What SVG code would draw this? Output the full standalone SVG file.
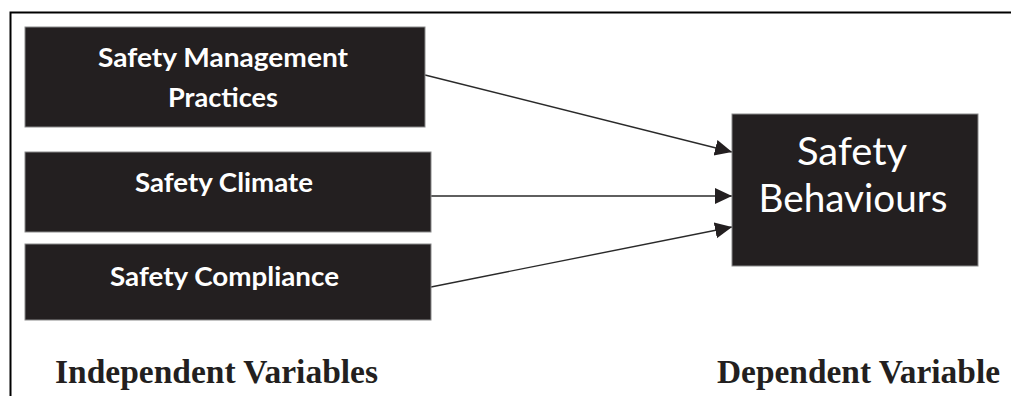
<svg xmlns="http://www.w3.org/2000/svg" width="1011" height="396" viewBox="0 0 1011 396">
<style>
.box{fill:#231f20;stroke:#8a8a8a;stroke-width:1}
.lbl{font-family:Lato,"Open Sans","Liberation Sans",sans-serif;font-weight:bold;fill:#ffffff;text-anchor:middle}
.big{font-family:Lato,"Open Sans","Liberation Sans",sans-serif;font-weight:normal;fill:#ffffff;text-anchor:middle;font-size:38px}
.cap{font-family:"Liberation Serif","Times New Roman",serif;font-weight:bold;fill:#231f20;font-size:34px}
.conn{stroke:#2a2a2a;stroke-width:1.4;fill:none;marker-end:url(#ah)}
</style>
<defs>
<marker id="ah" markerUnits="userSpaceOnUse" markerWidth="20" markerHeight="18" refX="17" refY="8" orient="auto">
<path d="M0,0 L17,8 L0,16 Z" fill="#231f20"/>
</marker>
</defs>
<g id="frame">
<path d="M10.5,396 L10.5,12.5 L1011,12.5" fill="none" stroke="#000" stroke-width="2"/>
</g>
<g id="connectors">
<line class="conn" x1="425" y1="75" x2="732" y2="152"/>
<line class="conn" x1="431" y1="196" x2="732" y2="196"/>
<line class="conn" x1="431" y1="287" x2="732" y2="227"/>
</g>
<g id="node-smp">
<rect class="box" x="25" y="27" width="400" height="100"/>
<text class="lbl" x="223" y="67" font-size="26.5" textLength="250" lengthAdjust="spacingAndGlyphs">Safety Management</text>
<text class="lbl" x="223" y="107" font-size="26.5" textLength="110" lengthAdjust="spacingAndGlyphs">Practices</text>
</g>
<g id="node-climate">
<rect class="box" x="25" y="152" width="406" height="80"/>
<text class="lbl" x="224" y="192" font-size="26.5" textLength="178" lengthAdjust="spacingAndGlyphs">Safety Climate</text>
</g>
<g id="node-compliance">
<rect class="box" x="25" y="244" width="406" height="76"/>
<text class="lbl" x="224.5" y="286" font-size="26.5" textLength="229" lengthAdjust="spacingAndGlyphs">Safety Compliance</text>
</g>
<g id="node-behaviours">
<rect class="box" x="732" y="114" width="246" height="152"/>
<text class="big" x="852" y="165" textLength="110" lengthAdjust="spacingAndGlyphs">Safety</text>
<text class="big" x="853" y="212" textLength="189" lengthAdjust="spacingAndGlyphs">Behaviours</text>
</g>
<g id="labels">
<text class="cap" x="55" y="383" textLength="323" lengthAdjust="spacingAndGlyphs">Independent Variables</text>
<text class="cap" x="717" y="383" textLength="283" lengthAdjust="spacingAndGlyphs">Dependent Variable</text>
</g>
</svg>
